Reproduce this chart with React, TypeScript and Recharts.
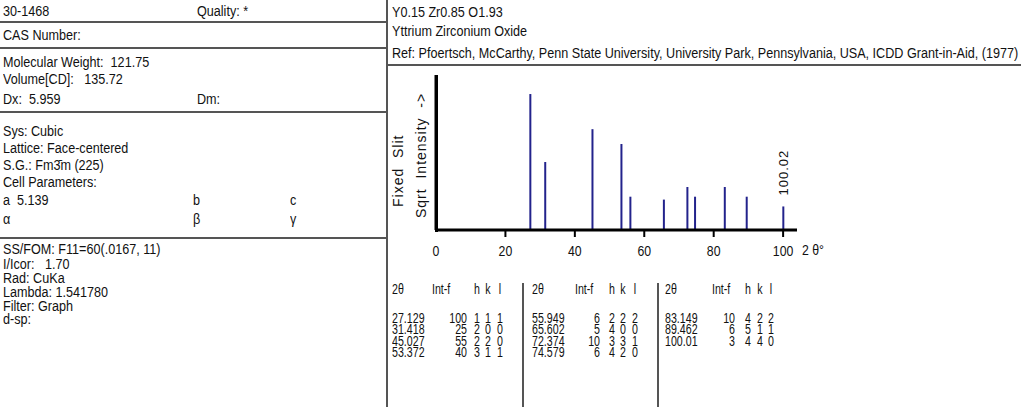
import React from 'react';
import { BarChart, Bar, XAxis, YAxis, LabelList } from 'recharts';

// peak list of card 30-1468
const twoTheta = [27.129, 31.418, 45.027, 53.372, 55.949, 65.602, 72.374, 74.579, 83.149, 89.462, 100.01];
const intensity = [100, 25, 55, 40, 6, 5, 10, 6, 10, 6, 3];
const hIdx = [1, 2, 2, 3, 2, 4, 3, 4, 4, 5, 4];
const kIdx = [1, 0, 2, 1, 2, 0, 3, 2, 2, 1, 4];
const lIdx = [1, 0, 0, 1, 2, 0, 1, 0, 2, 1, 0];
const peakTags = ['', '', '', '', '', '', '', '', '', '', '100.02'];
const xTicks = [0, 20, 40, 60, 80, 100];

const chartData = twoTheta.map((t, i) => ({ t, s: Math.sqrt(intensity[i]), tag: peakTags[i] }));

// no Arial Narrow here, so squeeze Liberation Sans instead
const SANS = '"Liberation Sans", Arial, sans-serif';
const SQUEEZE = 0.9;
const TABLE_SQUEEZE = 0.76;
const INK = '#111';
const RULE = '#555';

const Txt = ({ x, y, children, align = 'left', size = 14, sx = SQUEEZE, lh = 16 }: any) => {
  const w = 120;
  const left = align === 'left' ? x : align === 'right' ? x - w : x - w / 2;
  const origin = align === 'left' ? 'left' : align === 'right' ? 'right' : 'center';
  return (
    <div
      style={{
        position: 'absolute',
        left,
        top: y - lh / 2,
        width: w,
        textAlign: align,
        fontFamily: SANS,
        fontSize: size,
        lineHeight: `${lh}px`,
        whiteSpace: 'pre',
        color: INK,
        transform: `scaleX(${sx})`,
        transformOrigin: origin,
        overflow: 'visible',
      }}
    >
      {children}
    </div>
  );
};

const HLine = ({ x1, x2, y }: any) => (
  <div style={{ position: 'absolute', left: x1, top: y - 1, width: x2 - x1, height: 2, background: RULE }} />
);
const VLine = ({ x, y1, y2 }: any) => (
  <div style={{ position: 'absolute', left: x - 1, top: y1, width: 2, height: y2 - y1, background: RULE }} />
);

const VText = ({ x, bottom, children }: any) => (
  <div
    style={{
      position: 'absolute',
      left: x - 8,
      top: bottom,
      transform: 'rotate(-90deg)',
      transformOrigin: '0 0',
      fontFamily: SANS,
      fontSize: 14,
      letterSpacing: 1,
      lineHeight: '16px',
      whiteSpace: 'pre',
      color: INK,
    }}
  >
    {children}
  </div>
);

const AxisTick = (props: any) => {
  const { x, y, payload } = props;
  const base = y - 15;
  return (
    <g>
      {payload.value !== 0 && <line x1={x} x2={x} y1={base} y2={base + 7} stroke="#000" strokeWidth={2} />}
      <text
        transform={`translate(${x} ${y}) scale(0.82 1)`}
        dy="0.71em"
        textAnchor="middle"
        fontFamily={SANS}
        fontSize={15}
        fill={INK}
      >
        {payload.value}
      </text>
    </g>
  );
};

const PeakTag = (props: any) => {
  const { x, y, width, value } = props;
  if (!value) return null;
  const cx = Number(x) + Number(width) / 2;
  const by = Number(y) - 11;
  return (
    <text x={cx} y={by} transform={`rotate(-90 ${cx} ${by})`} dy="0.36em" fontFamily={SANS} fontSize={13} letterSpacing={1} fill={INK}>
      {value}
    </text>
  );
};

// table column layout: [2θ left, Int right, h, k, l, Int-f header left]
const groups = [
  { rows: [0, 1, 2, 3], c: [392, 467, 477, 488, 500, 432] },
  { rows: [4, 5, 6, 7], c: [532, 600, 612, 623, 635, 575] },
  { rows: [8, 9, 10], c: [665, 735, 748, 760, 771, 712] },
];
const rowY = [318, 329, 341, 352];

const Cell = (p: any) => <Txt sx={TABLE_SQUEEZE} lh={11} {...p} />;

export default function App() {
  return (
    <div style={{ position: 'absolute', left: 0, top: 0, width: 1021, height: 407, background: '#fff', overflow: 'hidden' }}>
      {/* left panel */}
      <Txt x={3} y={11}>30-1468</Txt>
      <Txt x={197} y={11}>Quality: *</Txt>
      <HLine x1={0} x2={387} y={22} />
      <Txt x={3} y={35}>CAS Number:</Txt>
      <HLine x1={0} x2={387} y={48} />
      <Txt x={3} y={62}>Molecular Weight:  121.75</Txt>
      <Txt x={3} y={79}>Volume[CD]:   135.72</Txt>
      <Txt x={3} y={99}>Dx:  5.959</Txt>
      <Txt x={197} y={99}>Dm:</Txt>
      <HLine x1={0} x2={387} y={112} />
      <Txt x={3} y={131}>Sys: Cubic</Txt>
      <Txt x={3} y={148}>Lattice: Face-centered</Txt>
      <Txt x={3} y={165}>S.G.: Fm3̄m (225)</Txt>
      <Txt x={3} y={182}>Cell Parameters:</Txt>
      <Txt x={3} y={200}>a  5.139</Txt>
      <Txt x={193} y={200}>b</Txt>
      <Txt x={290} y={200}>c</Txt>
      <Txt x={3} y={219}>α</Txt>
      <Txt x={193} y={219}>β</Txt>
      <Txt x={290} y={219}>γ</Txt>
      <HLine x1={0} x2={387} y={238} />
      <Txt x={3} y={249} lh={14}>SS/FOM: F11=60(.0167, 11)</Txt>
      <Txt x={3} y={264} lh={14}>I/Icor:   1.70</Txt>
      <Txt x={3} y={278} lh={14}>Rad: CuKa</Txt>
      <Txt x={3} y={292} lh={14}>Lambda: 1.541780</Txt>
      <Txt x={3} y={306} lh={14}>Filter: Graph</Txt>
      <Txt x={3} y={319} lh={14}>d-sp:</Txt>

      <VLine x={387} y1={0} y2={407} />

      {/* right header */}
      <Txt x={392} y={12}>Y0.15 Zr0.85 O1.93</Txt>
      <Txt x={392} y={31}>Yttrium Zirconium Oxide</Txt>
      <Txt x={392} y={53}>Ref: Pfoertsch, McCarthy, Penn State University, University Park, Pennsylvania, USA, ICDD Grant-in-Aid, (1977)</Txt>
      <HLine x1={387} x2={1021} y={65} />

      {/* stick pattern */}
      <VText x={398} bottom={207}>Fixed  Slit</VText>
      <VText x={421} bottom={218}>Sqrt  Intensity  -&gt;</VText>
      <div style={{ position: 'absolute', left: 388, top: 60 }}>
        <BarChart width={430} height={210} data={chartData} margin={{ top: 15, right: 21, left: 38, bottom: 10 }}>
          <XAxis
            dataKey="t"
            type="number"
            domain={[0, 104]}
            ticks={xTicks}
            allowDataOverflow
            height={30}
            axisLine={{ stroke: '#000', strokeWidth: 3 }}
            tickLine={false}
            tickSize={6}
            tickMargin={9}
            tick={<AxisTick />}
            interval={0}
          />
          <YAxis
            type="number"
            domain={[0, 11.4]}
            allowDataOverflow
            width={10}
            tick={false}
            tickLine={false}
            axisLine={{ stroke: '#000', strokeWidth: 3 }}
          />
          <Bar dataKey="s" fill="#23238c" barSize={2} isAnimationActive={false}>
            <LabelList dataKey="tag" content={<PeakTag />} />
          </Bar>
        </BarChart>
      </div>
      {/* vertical axis rule (plot frame) */}
      <div style={{ position: 'absolute', left: 434.5, top: 75, width: 3, height: 157, background: '#000' }} />
      <Txt x={802} y={250} size={15} sx={0.82}>2 θ°</Txt>

      {/* peak table */}
      <VLine x={523} y1={283} y2={407} />
      <VLine x={658} y1={283} y2={407} />
      {groups.map((g, gi) => (
        <React.Fragment key={gi}>
          <Cell x={g.c[0]} y={289}>2θ</Cell>
          <Cell x={g.c[5]} y={289}>Int-f</Cell>
          <Cell x={g.c[2]} y={289} align="center">h</Cell>
          <Cell x={g.c[3]} y={289} align="center">k</Cell>
          <Cell x={g.c[4]} y={289} align="center">l</Cell>
          {g.rows.map((r, ri) => (
            <React.Fragment key={r}>
              <Cell x={g.c[0]} y={rowY[ri]}>{twoTheta[r] === 100.01 ? '100.01' : twoTheta[r].toFixed(3)}</Cell>
              <Cell x={g.c[1]} y={rowY[ri]} align="right">{intensity[r]}</Cell>
              <Cell x={g.c[2]} y={rowY[ri]} align="center">{hIdx[r]}</Cell>
              <Cell x={g.c[3]} y={rowY[ri]} align="center">{kIdx[r]}</Cell>
              <Cell x={g.c[4]} y={rowY[ri]} align="center">{lIdx[r]}</Cell>
            </React.Fragment>
          ))}
        </React.Fragment>
      ))}
    </div>
  );
}
